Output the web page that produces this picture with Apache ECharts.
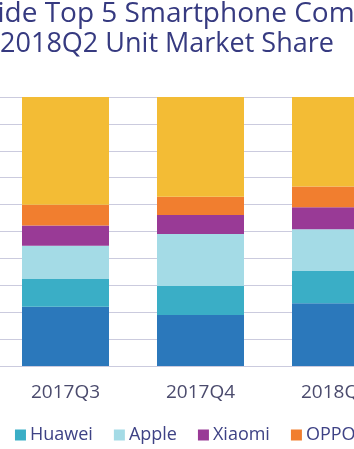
<!DOCTYPE html>
<html>
<head>
<meta charset="UTF-8">
<title>Top 5 Smartphone Companies</title>
<style type="text/css">
	html, body {
		margin: 0;
		padding: 0;
		overflow: hidden;
		background: #fff;
	}
	/* the reference is a crop of a wider chart, so the canvas runs past the window edges */
	#share-chart {
		position: absolute;
		left: -120px;
		top: 0;
		width: 560px;
		height: 449px;
	}
</style>
</head>
<body>
<div id="share-chart"></div>
<script src="https://cdn.jsdelivr.net/npm/echarts@6/dist/echarts.min.js"></script>
<script type="text/javascript">
	var quarters = ['2017Q3', '2017Q4', '2018Q1'];
	var vendors = ['Samsung', 'Huawei', 'Apple', 'Xiaomi', 'OPPO', 'Others'];
	var samsung = [22.0, 19.0, 23.3];
	var huawei = [10.3, 10.7, 12.0];
	var apple = [12.4, 19.4, 15.5];
	var xiaomi = [7.5, 7.0, 8.2];
	var oppo = [7.7, 6.8, 7.7];
	var others = [40.1, 37.1, 33.3];
	var colors = ['#2b78bb', '#3aaec6', '#a4dbe6', '#993a96', '#f17e2f', '#f3bc35'];
	var titleLines = ['Worldwide Top 5 Smartphone Companies', '2018Q2 Unit Market Share'];

	var shares = [samsung, huawei, apple, xiaomi, oppo, others];
	var series = [];
	for (var i = 0; i < vendors.length; i++) {
		series.push({
			name: vendors[i],
			type: 'bar',
			stack: 'share',
			barWidth: 87,
			itemStyle: { color: colors[i] },
			data: shares[i]
		});
	}

	function titleLine(text, left, top, size) {
		return {
			text: text,
			left: left,
			top: top,
			padding: 0,
			textAlign: 'center',
			textStyle: {
				fontFamily: 'Open Sans',
				fontSize: size,
				fontWeight: 'normal',
				lineHeight: 30,
				color: '#363a80'
			}
		};
	}

	var myChart = echarts.init(document.getElementById('share-chart'));
	var option = {
		animation: false,
		title: [
			titleLine(titleLines[0], 289, -1, 28),
			titleLine(titleLines[1], 287, 29, 27)
		],
		legend: {
			data: vendors,
			left: 22,
			top: 426,
			padding: 0,
			itemGap: 21,
			itemWidth: 11,
			itemHeight: 11,
			icon: 'rect',
			textStyle: {
				fontFamily: 'Open Sans',
				fontSize: 18,
				color: '#3e4285',
				padding: [0, 0, 0, -1]
			}
		},
		grid: {
			left: 118,
			right: 37,
			top: 97,
			bottom: 83
		},
		xAxis: {
			type: 'category',
			data: quarters,
			axisLine: { show: false },
			axisTick: { show: false },
			axisLabel: {
				margin: 17,
				fontFamily: 'Open Sans',
				fontSize: 19,
				color: '#4b4b6d'
			}
		},
		yAxis: {
			type: 'value',
			min: 0,
			max: 100,
			interval: 10,
			axisLabel: { show: false },
			axisLine: { show: false },
			axisTick: { show: false },
			splitLine: {
				lineStyle: { color: '#cbcbde', width: 1 }
			}
		},
		series: series
	};
	myChart.setOption(option);
</script>
</body>
</html>
